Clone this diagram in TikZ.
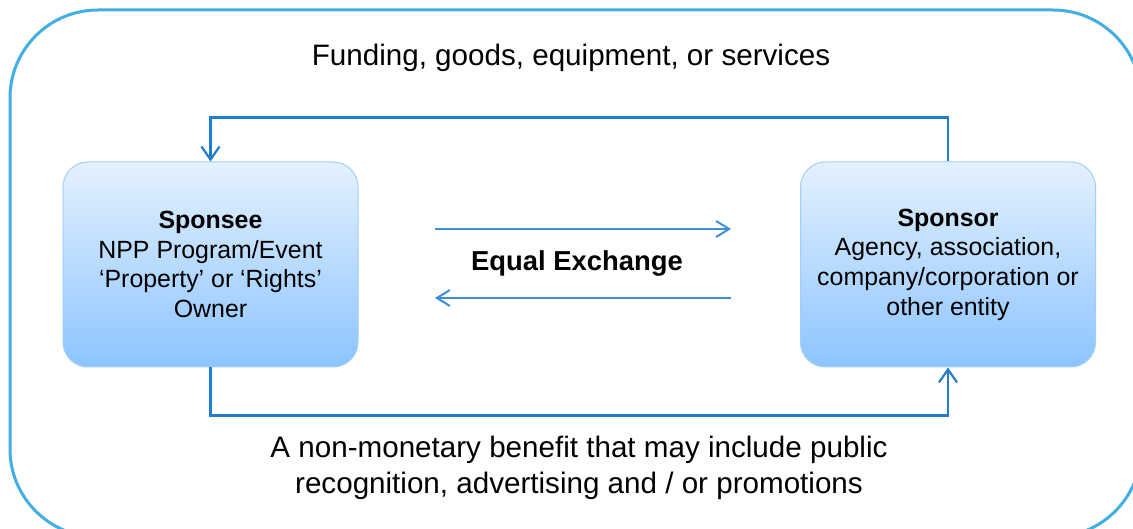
\documentclass[tikz,border=0pt]{standalone}
\usepackage{fontspec}
\setmainfont{Liberation Sans}
\usetikzlibrary{arrows.meta}

\definecolor{rim}{RGB}{66,174,226}
\definecolor{linkblue}{RGB}{38,124,204}
\definecolor{swapblue}{RGB}{62,142,216}
\definecolor{boxtop}{RGB}{228,241,254}
\definecolor{boxbot}{RGB}{140,196,255}
\definecolor{boxedge}{RGB}{160,206,250}

\tikzset{
    party/.style={draw=boxedge, line width=1pt, rounded corners=25pt,
        top color=boxtop, bottom color=boxbot,
        minimum width=295pt, minimum height=205pt, inner sep=0pt,
        align=center, font=\fontsize{24.9}{29.7}\selectfont},
    caption/.style={align=center, font=\fontsize{29.6}{36.5}\selectfont},
    link/.style={linkblue, line width=2.2pt,
        -{Straight Barb[length=13pt, width=18pt, line width=2.2pt]}},
    swap/.style={swapblue, line width=2pt,
        -{Straight Barb[length=13pt, width=16pt, line width=2pt]}}
}

\begin{document}
\begin{tikzpicture}[x=1pt, y=-1pt]
    \useasboundingbox (0,0) rectangle (1133,529);
    \clip (0,0) rectangle (1133,529);

    % Marco
    \draw[rim, line width=3pt, rounded corners=88pt] (10,10) rectangle (1141,537);

    % Cajas
    \node[party] (sponsee) at (210.5,264.5) {\textbf{Sponsee}\\NPP Program/Event\\‘Property’ or ‘Rights’\\Owner};
    \node[party] (sponsor) at (948,264.5) {\textbf{Sponsor}\\Agency, association,\\company/corporation or\\other entity};

    % Textos
    \node[caption] (funding) at (571,58) {Funding, goods, equipment, or services};
    \node[caption] (benefit) at (579,468) {A non-monetary benefit that may include public\\recognition, advertising and / or promotions};
    \node[font=\fontsize{27.4}{32}\selectfont\bfseries] (exch) at (577,263) {Equal Exchange};

    % Flujos
    \draw[link] (sponsor.north) -- ++(0,-44) -| (sponsee.north);
    \draw[link] (sponsee.south) -- ++(0,48) -| (sponsor.south);

    % Intercambio
    \coordinate (giveL) at (435,229);
    \coordinate (giveR) at (731,229);
    \coordinate (getL) at (435,298);
    \coordinate (getR) at (731,298);
    \draw[swap] (giveL) -- (giveR);
    \draw[swap] (getR) -- (getL);
\end{tikzpicture}
\end{document}
